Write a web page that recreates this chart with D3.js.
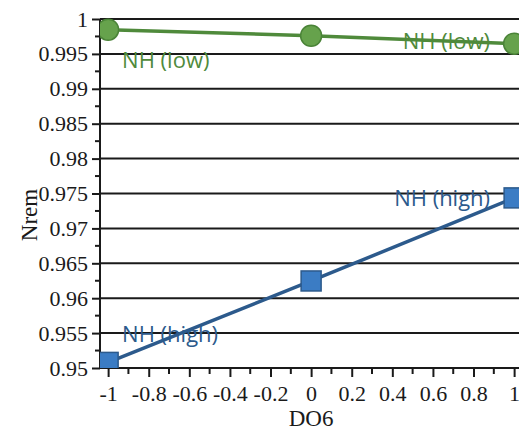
<!DOCTYPE html>
<html>
<head>
<meta charset="utf-8">
<script src="https://cdn.jsdelivr.net/npm/d3@7"></script>
<style>
  html, body { margin: 0; padding: 0; background: #fff; }
  svg { display: block; }
</style>
</head>
<body>
<svg id="chart" width="519" height="431"></svg>
<script>
// DO6 levels on the x axis
const do6Levels = [-1, 0, 1];
// Nrem response for the two NH settings
const nhLow = [0.99847, 0.9976, 0.99646];
const nhHigh = [0.9508, 0.96247, 0.97437];
// axis tick values
const yTicks = [0.95, 0.955, 0.96, 0.965, 0.97, 0.975, 0.98, 0.985, 0.99, 0.995, 1];
const xTicks = [-1, -0.8, -0.6, -0.4, -0.2, 0, 0.2, 0.4, 0.6, 0.8, 1];
const seriesNames = ["NH (low)", "NH (high)"];

const svg = d3.select("#chart");
const W = 519, H = 431;
const margin = { left: 100, top: 19, bottom: 63 };

const x = d3.scaleLinear().domain([-1.04, 1.04]).range([margin.left, margin.left + 2.08 * 203]);
const y = d3.scaleLinear().domain([0.95, 1]).range([H - margin.bottom, margin.top]);

const serif = "'Liberation Serif', 'Times New Roman', serif";
const sans = "'Open Sans', 'Noto Sans', sans-serif";
const plain = d => String(d); // hyphen-minus, no padding

svg.append("defs").append("clipPath").attr("id", "plotClip")
  .append("rect")
  .attr("x", margin.left).attr("y", 0)
  .attr("width", W - margin.left).attr("height", y(0.95));

// horizontal grid
svg.append("g").selectAll("line").data(yTicks.slice(1)).join("line")
  .attr("x1", margin.left).attr("x2", W)
  .attr("y1", d => y(d)).attr("y2", d => y(d))
  .attr("stroke", "#1a1a1a").attr("stroke-width", 2);

// y axis with minor ticks halfway between labels
const yMinor = yTicks.slice(0, -1).map(d => d + 0.0025);
const yAxis = svg.append("g").attr("transform", `translate(${margin.left},0)`)
  .call(d3.axisLeft(y).tickValues(yTicks).tickFormat(plain).tickSize(8).tickPadding(4));
yAxis.append("g").selectAll("line").data(yMinor).join("line")
  .attr("x1", -5).attr("x2", 0)
  .attr("y1", d => y(d)).attr("y2", d => y(d))
  .attr("stroke", "#1a1a1a").attr("stroke-width", 2);

// x axis with minor ticks halfway between labels
const xMinor = xTicks.slice(0, -1).map(d => d + 0.1);
const xAxis = svg.append("g").attr("transform", `translate(0,${y(0.95)})`)
  .call(d3.axisBottom(x).tickValues(xTicks).tickFormat(plain).tickSize(9).tickPadding(8));
xAxis.append("g").selectAll("line").data(xMinor).join("line")
  .attr("x1", d => x(d)).attr("x2", d => x(d))
  .attr("y1", 0).attr("y2", 6)
  .attr("stroke", "#1a1a1a").attr("stroke-width", 2);

[yAxis, xAxis].forEach(g => {
  g.select(".domain").attr("stroke", "#1a1a1a").attr("stroke-width", 2);
  g.selectAll(".tick line").attr("stroke", "#1a1a1a").attr("stroke-width", 2);
  g.selectAll(".tick text").attr("font-family", serif).attr("font-size", 22).attr("fill", "#1a1a1a");
});
yAxis.select(".domain").attr("d", `M0,${y(0.95)}V${y(1)}`);
xAxis.select(".domain").attr("d", `M${margin.left},0H${W}`);

// axis titles
svg.append("text")
  .attr("transform", `translate(37,215) rotate(-90)`)
  .attr("text-anchor", "middle")
  .attr("font-family", serif).attr("font-size", 23).attr("fill", "#1a1a1a")
  .text("Nrem");
svg.append("text")
  .attr("x", x(0)).attr("y", 426)
  .attr("text-anchor", "middle")
  .attr("font-family", serif).attr("font-size", 23).attr("fill", "#1a1a1a")
  .text("DO6");

// series
const plot = svg.append("g").attr("clip-path", "url(#plotClip)");
const line = d3.line().x((d, i) => x(do6Levels[i])).y(d => y(d));

plot.append("path").datum(nhLow).attr("d", line)
  .attr("fill", "none").attr("stroke", "#4f8a3b").attr("stroke-width", 3.5);
plot.append("path").datum(nhHigh).attr("d", line)
  .attr("fill", "none").attr("stroke", "#2c5a8c").attr("stroke-width", 3.5);

plot.append("g").selectAll("circle").data(nhLow).join("circle")
  .attr("cx", (d, i) => x(do6Levels[i])).attr("cy", d => y(d)).attr("r", 10.5)
  .attr("fill", "#66a24c").attr("stroke", "#4a8337").attr("stroke-width", 1.5);
plot.append("g").selectAll("rect").data(nhHigh).join("rect")
  .attr("x", (d, i) => x(do6Levels[i]) - 10).attr("y", d => y(d) - 10)
  .attr("width", 20).attr("height", 20)
  .attr("fill", "#3b7cc4").attr("stroke", "#2c5a8c").attr("stroke-width", 1.5);

// point labels
const labelStyle = (sel, color) => sel
  .attr("font-family", sans).attr("font-size", 22).attr("fill", color);
svg.append("text").attr("x", x(-1) + 14).attr("y", y(nhLow[0]) + 38).text(seriesNames[0])
  .call(labelStyle, "#4f8a3b");
svg.append("text").attr("x", x(1) - 24).attr("y", y(nhLow[2]) + 5).attr("text-anchor", "end").text(seriesNames[0])
  .call(labelStyle, "#4f8a3b");
svg.append("text").attr("x", x(1) - 24).attr("y", y(nhHigh[2]) + 8).attr("text-anchor", "end").text(seriesNames[1])
  .call(labelStyle, "#2c5a8c");
svg.append("text").attr("x", x(-1) + 14).attr("y", y(nhHigh[0]) - 20).text(seriesNames[1])
  .call(labelStyle, "#2c5a8c");
</script>
</body>
</html>
